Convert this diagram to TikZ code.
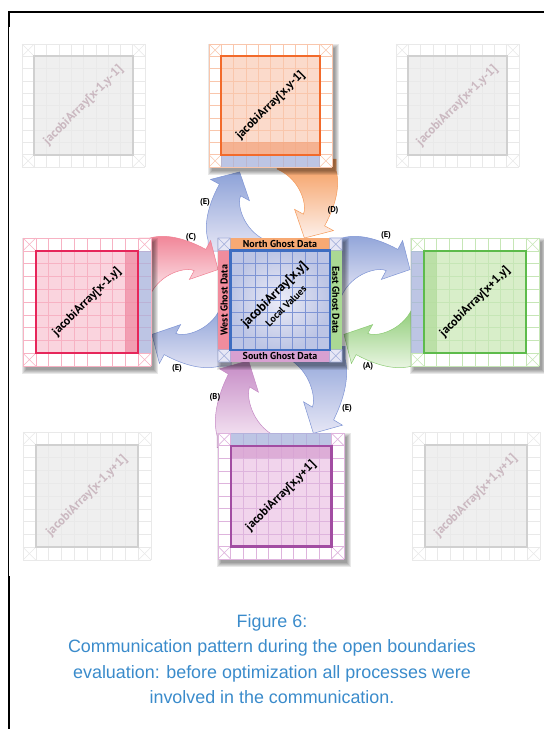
\documentclass[tikz,border=0pt]{standalone}
\usepackage{fontspec}
\setmainfont{Liberation Sans}
\newfontfamily\ptsans{PT Sans}
\usepackage{tikz}
\usetikzlibrary{positioning,calc}
\definecolor{capblue}{HTML}{3A8BCB}
\definecolor{grisl}{HTML}{E9E9E9}
\definecolor{grisf}{HTML}{EFEFEF}
\definecolor{grisb}{HTML}{D0D0D0}
\definecolor{grist}{HTML}{CBB9C1}
\definecolor{naranl}{HTML}{F9C6AC}
\definecolor{naranf}{HTML}{FBDACB}
\definecolor{naranb}{HTML}{F26A2B}
\definecolor{naranx}{HTML}{F3A57F}
\definecolor{naranfl}{HTML}{F59A5A}
\definecolor{rosal}{HTML}{F7B2C3}
\definecolor{rosaf}{HTML}{FAD4DE}
\definecolor{rosab}{HTML}{E6265A}
\definecolor{rosax}{HTML}{F08CA4}
\definecolor{rosafl}{HTML}{F07F92}
\definecolor{verdel}{HTML}{C6E6B6}
\definecolor{verdef}{HTML}{D8EEC9}
\definecolor{verdeb}{HTML}{5DBB4B}
\definecolor{verdex}{HTML}{B2DC9C}
\definecolor{verdefl}{HTML}{8CCB74}
\definecolor{moradol}{HTML}{DEB4DD}
\definecolor{moradof}{HTML}{F1D4EC}
\definecolor{moradob}{HTML}{A24DA2}
\definecolor{moradox}{HTML}{D7A0D1}
\definecolor{moradofl}{HTML}{C58AC5}
\definecolor{azull}{HTML}{7E94D4}
\definecolor{azulb}{HTML}{3E6DC1}
\definecolor{azulf}{HTML}{E6E6F5}
\definecolor{azulg}{HTML}{A7B2DC}
\definecolor{azulfl}{HTML}{8DA2D8}
\tikzset{
  rejilla/.style={line width=0.6pt},
  etiqgris/.style={rotate=45,text=grist,font=\ptsans\bfseries\fontsize{12.5}{12.5}\selectfont},
  etiqcolor/.style={rotate=45,text=black,font=\ptsans\bfseries\fontsize{12}{12}\selectfont},
  fantasma/.style={font=\ptsans\bfseries\fontsize{10}{10}\selectfont,inner sep=0pt},
  letra/.style={font=\ptsans\bfseries\fontsize{8.5}{8.5}\selectfont,inner sep=1pt},
  flecha/.style={line width=0.5pt},
}
% bloque de 10x10 celdas: #1 x, #2 y, #3 celda, #4 color, #5 texto, #6 estilo, #7 nombre
\newcommand{\bloque}[7]{%
  \fill[white] (#1,#2) rectangle ++(10*#3,10*#3);
  \fill[#4f] (#1+#3,#2+#3) rectangle ++(8*#3,8*#3);
  \foreach \i in {0,...,10}{
    \draw[#4l,rejilla] (#1+\i*#3,#2) -- ++(0,10*#3);
    \draw[#4l,rejilla] (#1,#2+\i*#3) -- ++(10*#3,0);}
  \foreach \cx/\cy in {0/0,9/0,0/9,9/9}
    \draw[#4l,rejilla] (#1+\cx*#3,#2+\cy*#3) -- ++(#3,#3) ++(0,-#3) -- ++(-#3,#3);
  \draw[#4b,line width=2.2pt] (#1+#3,#2+#3) rectangle ++(8*#3,8*#3);
  \node[#6] (#7) at (#1+5*#3,#2+5*#3) {#5};}
% sombra: #1 x, #2 y, #3 lado
\newcommand{\sombra}[3]{%
  \foreach \k in {0,...,4}
    \fill[black,opacity=0.09] (#1+\k-1,#2+\k) rectangle ++(#3+8-2*\k,#3+8-2*\k);}
% franja tenida: #1 x, #2 y, #3 celda, #4 col, #5 fila, #6 ancho, #7 alto, #8 color
\newcommand{\tinte}[8]{%
  \fill[#8,opacity=0.75] (#1+#4*#3,#2+#5*#3) rectangle ++(#6*#3,#7*#3);}
% flecha curva: #1 fuerte, #2 claro, #3 borde
\newcommand{\flechacurva}[3]{%
  \shade[flecha,top color=#1,bottom color=#2,draw=#3]
    (-64,46) -- (-64,35) .. controls (-70,14) and (-58.4,-10.2) .. (-52.6,-20.8)
    -- (-61.4,-25.6) -- (-32.4,-33) -- (-22.6,-4.4) -- (-31.4,-9.2)
    .. controls (-35.2,-2.2) and (-30,25) .. (-5,36) -- (-5,46) -- cycle;}
\begin{document}
\begin{tikzpicture}[x=1pt,y=-1pt]
  \useasboundingbox (0,0) rectangle (544,729);
  % marco
  \draw[line width=1.6pt] (8,12) -- (544,12);
  \draw[line width=0.8pt] (8.7,12) -- (8.7,729);
  \draw[line width=1.7pt] (8.7,12) -- (8.7,27);
  \draw[line width=1.7pt] (8.7,576) -- (8.7,729);
  % vecinos diagonales
  \bloque{22}{44}{12.3}{gris}{jacobiArray[x-1,y-1]}{etiqgris}{nw}
  \bloque{396}{44}{12.3}{gris}{jacobiArray[x+1,y-1]}{etiqgris}{ne}
  \bloque{23}{432}{12.8}{gris}{jacobiArray[x-1,y+1]}{etiqgris}{sw}
  \bloque{412}{432}{12.8}{gris}{jacobiArray[x+1,y+1]}{etiqgris}{se}
  % flechas
  \begin{scope}[shift={(272,205)}]
    \flechacurva{azulfl}{azulf}{azull}
    \begin{scope}[rotate=180]\flechacurva{naranfl}{naranf!40}{naranfl}\end{scope}
  \end{scope}
  \begin{scope}[shift={(185,302)},rotate=90]
    \flechacurva{azulfl}{azulf}{azull}
    \begin{scope}[rotate=180]\flechacurva{rosafl}{rosaf!40}{rosafl}\end{scope}
  \end{scope}
  \begin{scope}[shift={(377,302)},rotate=-90]
    \flechacurva{azulfl}{azulf}{azull}
    \begin{scope}[rotate=180]\flechacurva{verdefl}{verdef!40}{verdefl}\end{scope}
  \end{scope}
  \begin{scope}[shift={(281,397)},yscale=1.1]
    \begin{scope}[rotate=180]\flechacurva{azulfl}{azulf}{azull}\end{scope}
    \flechacurva{moradofl}{moradof!40}{moradofl}
  \end{scope}
  % vecinos
  \sombra{209}{44}{123}
  \bloque{209}{44}{12.3}{naran}{jacobiArray[x,y-1]}{etiqcolor}{norte}
  \tinte{209}{44}{12.3}{1}{8}{8}{1}{naranx}
  \tinte{209}{44}{12.3}{1}{9}{8}{1}{azulg}
  \draw[naranb,line width=2.2pt] (209+12.3,44+12.3) rectangle ++(98.4,98.4);
  \sombra{23}{238}{128}
  \bloque{23}{238}{12.8}{rosa}{jacobiArray[x-1,y]}{etiqcolor}{oeste}
  \tinte{23}{238}{12.8}{8}{1}{1}{8}{rosax}
  \tinte{23}{238}{12.8}{9}{1}{1}{8}{azulg}
  \draw[rosab,line width=2.2pt] (23+12.8,238+12.8) rectangle ++(102.4,102.4);
  \sombra{411}{238}{128}
  \bloque{411}{238}{12.8}{verde}{jacobiArray[x+1,y]}{etiqcolor}{este}
  \tinte{411}{238}{12.8}{1}{1}{1}{8}{verdex}
  \tinte{411}{238}{12.8}{0}{1}{1}{8}{azulg}
  \draw[verdeb,line width=2.2pt] (411+12.8,238+12.8) rectangle ++(102.4,102.4);
  \sombra{218}{433}{126}
  \bloque{218}{433}{12.6}{morado}{jacobiArray[x,y+1]}{etiqcolor}{sur}
  \tinte{218}{433}{12.6}{1}{1}{8}{1}{moradox}
  \tinte{218}{433}{12.6}{1}{0}{8}{1}{azulg}
  \draw[moradob,line width=2.2pt] (218+12.6,433+12.6) rectangle ++(100.8,100.8);
  % bloque central
  \sombra{218}{238}{124}
  \fill[azulf] (218,238) rectangle ++(124,124);
  \fill[naranfl!85] (230.4,238) rectangle ++(99.2,12.4);
  \fill[moradox] (230.4,349.6) rectangle ++(99.2,12.4);
  \fill[rosafl!90] (218,250.4) rectangle ++(12.4,99.2);
  \fill[verdex!90!verdeb] (329.6,250.4) rectangle ++(12.4,99.2);
  \shade[inner color=azulf!80!white,outer color=azulg!75!white] (230.4,250.4) rectangle ++(99.2,99.2);
  \foreach \cx/\cy in {218/238,329.6/238,218/349.6,329.6/349.6}
    \draw[azulg,rejilla] (\cx,\cy) rectangle ++(12.4,12.4) (\cx,\cy) -- ++(12.4,12.4) ++(0,-12.4) -- ++(-12.4,12.4);
  \foreach \i in {1,...,7}{
    \draw[azull,rejilla] (230.4+\i*12.4,250.4) -- ++(0,99.2);
    \draw[azull,rejilla] (230.4,250.4+\i*12.4) -- ++(99.2,0);}
  \draw[azulb,line width=2.2pt] (230.4,250.4) rectangle ++(99.2,99.2);
  \node[fantasma] (gnorte) at (280,244.2) {North Ghost Data};
  \node[fantasma] (gsur) at (280,355.8) {South Ghost Data};
  \node[fantasma,rotate=90] (goeste) at (224.2,300) {West Ghost Data};
  \node[fantasma,rotate=-90] (geste) at (335.8,300) {East Ghost Data};
  \node[etiqcolor,font=\ptsans\bfseries\fontsize{13}{13}\selectfont] (centro) at (275,295) {jacobiArray[x,y]};
  \node[etiqcolor,font=\ptsans\bfseries\fontsize{10}{10}\selectfont] (locales) at (286,306) {Local Values};
  % letras de las flechas
  \node[letra] (le1) at (205,202) {(E)};
  \node[letra] (ld) at (333,210) {(D)};
  \node[letra] (lc) at (191,237) {(C)};
  \node[letra] (le2) at (386,235) {(E)};
  \node[letra] (le3) at (177,368) {(E)};
  \node[letra] (la) at (368,366) {(A)};
  \node[letra] (lb) at (215,397) {(B)};
  \node[letra] (le4) at (347,408) {(E)};
  % pie
  \node[font=\fontsize{17.9}{25.5}\selectfont,text=capblue,align=center] (pie) at (272,659)
    {Figure 6:\\Communication pattern during the open boundaries\\evaluation: before optimization all processes were\\involved in the communication.};
\end{tikzpicture}
\end{document}
